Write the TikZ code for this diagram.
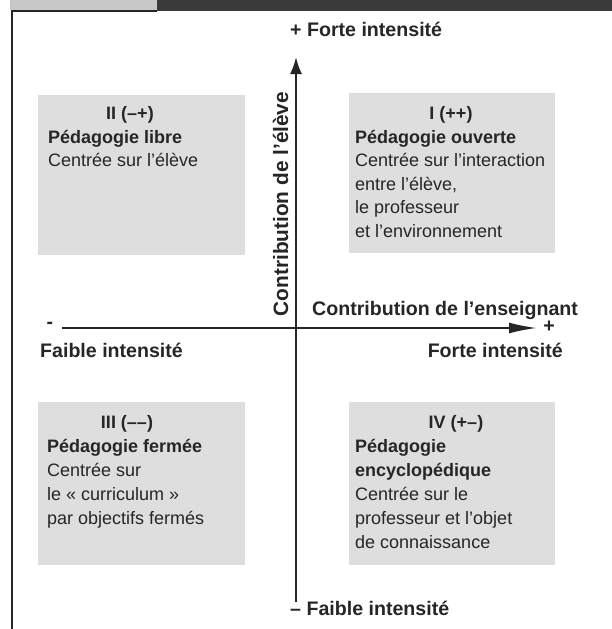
\documentclass[tikz,border=0pt]{standalone}
\usepackage{fontspec}
\setmainfont{Liberation Sans}
\usetikzlibrary{arrows.meta}
\definecolor{boxgray}{RGB}{222,222,222}
\definecolor{headlight}{RGB}{200,200,200}
\definecolor{headdark}{RGB}{58,58,58}
\definecolor{ink}{RGB}{38,38,38}
\begin{document}
\begin{tikzpicture}[x=1pt,y=-1pt,
  quad/.style={fill=boxgray, draw=none, anchor=north west, inner sep=0pt},
  qtitle/.style={anchor=base, inner sep=0pt, text=ink, font=\fontsize{18}{22}\selectfont\bfseries},
  qhead/.style={anchor=base west, inner sep=0pt, text=ink, font=\fontsize{18}{22}\selectfont\bfseries},
  qbody/.style={anchor=base west, inner sep=0pt, text=ink, font=\fontsize{18}{22}\selectfont},
  axlab/.style={inner sep=0pt, text=ink, font=\fontsize{19.6}{23}\selectfont\bfseries},
  axisline/.style={draw=ink, line width=2pt}
]
\useasboundingbox (0,0) rectangle (612,629);
\fill[white] (0,0) rectangle (612,629);
% header bars and frame
\fill[headlight] (10,0) rectangle (157,10);
\fill[headdark] (157,0) rectangle (612,11);
\draw[line width=2pt, ink] (11.5,629) -- (11.5,10.5) -- (157,10.5);

% quadrant boxes
\node[quad, minimum width=207pt, minimum height=160pt] (boxII) at (38,95) {};
\node[quad, minimum width=206pt, minimum height=160pt] (boxI) at (349,93) {};
\node[quad, minimum width=207pt, minimum height=163pt] (boxIII) at (38,402) {};
\node[quad, minimum width=206pt, minimum height=163pt] (boxIV) at (349,402) {};

% box II
\node[qtitle] (tII) at (130,119.5) {II (–+)};
\node[qhead] (hII) at (48,143) {Pédagogie libre};
\node[qbody] (bII) at (48,166.5) {Centrée sur l’élève};

% box I
\node[qtitle] (tI) at (451,119.5) {I (++)};
\node[qhead] (hI) at (355,143) {Pédagogie ouverte};
\node[qbody] (bI1) at (355,166.5) {Centrée sur l’interaction};
\node[qbody] (bI2) at (355,190) {entre l’élève,};
\node[qbody] (bI3) at (355,213.5) {le professeur};
\node[qbody] (bI4) at (355,237) {et l’environnement};

% box III
\node[qtitle] (tIII) at (127,428) {III (––)};
\node[qhead] (hIII) at (47,452) {Pédagogie fermée};
\node[qbody] (bIII1) at (47,476) {Centrée sur};
\node[qbody] (bIII2) at (47,500) {le «~curriculum~»};
\node[qbody] (bIII3) at (47,524) {par objectifs fermés};

% box IV
\node[qtitle] (tIV) at (456,428) {IV (+–)};
\node[qhead] (hIV1) at (355,452) {Pédagogie};
\node[qhead] (hIV2) at (355,476) {encyclopédique};
\node[qbody] (bIV1) at (355,500) {Centrée sur le};
\node[qbody] (bIV2) at (355,524) {professeur et l’objet};
\node[qbody] (bIV3) at (355,548) {de connaissance};

% axes
\coordinate (vstart) at (296,602);
\coordinate (vend) at (296,57);
\coordinate (hstart) at (62,328);
\coordinate (hend) at (537,328);
\draw[axisline, -{Latex[length=17pt,width=12pt]}] (vstart) -- (vend);
\draw[axisline, -{Latex[length=28pt,width=11pt]}] (hstart) -- (hend);

% axis labels
\node[axlab, anchor=base west] (topl) at (290,36) {+ Forte intensité};
\node[axlab, anchor=base west] (botl) at (290,615) {– Faible intensité};
\node[axlab, anchor=base west] (hlab) at (312,315) {Contribution de l’enseignant};
\node[axlab, anchor=base west] (lowl) at (40,357) {Faible intensité};
\node[axlab, anchor=base east] (highr) at (563,357) {Forte intensité};
\node[axlab] (minusl) at (50,325) {-};
\node[axlab] (plusr) at (549,327) {+};
\node[axlab, font=\fontsize{20.8}{24}\selectfont\bfseries, rotate=90, anchor=base] (vlab) at (288,204) {Contribution de l’élève};
\end{tikzpicture}
\end{document}
